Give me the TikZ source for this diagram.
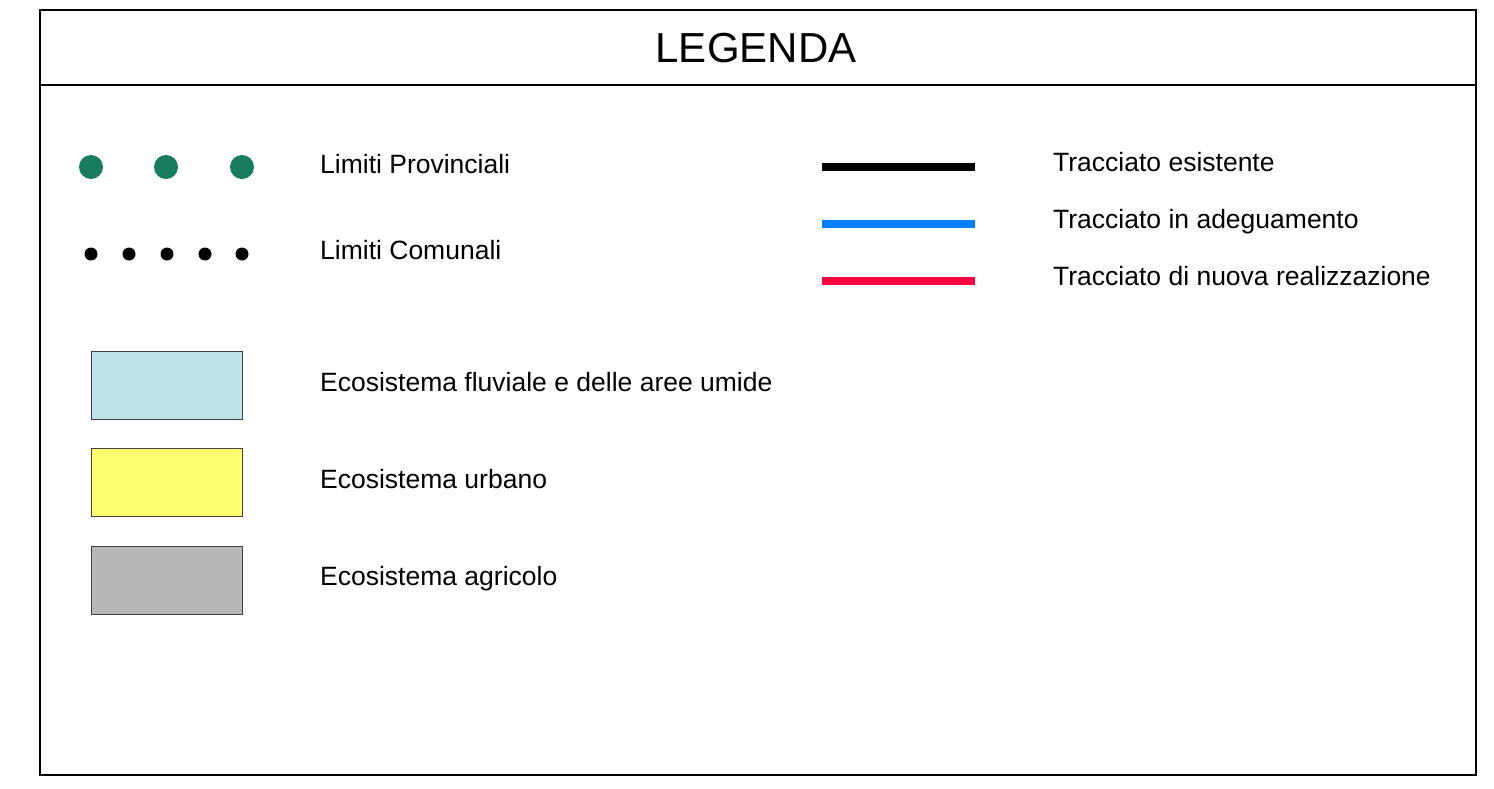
\documentclass[tikz,border=0pt]{standalone}
\usepackage{fontspec}
\setmainfont{Liberation Sans}
\usepackage{xcolor}
\usetikzlibrary{positioning}

\definecolor{provgreen}{RGB}{24,124,96}
\definecolor{fluvblue}{RGB}{194,226,233}
\definecolor{urbyellow}{RGB}{255,255,112}
\definecolor{agrgrey}{RGB}{184,184,184}
\definecolor{adegblue}{RGB}{0,128,255}
\definecolor{nuovared}{RGB}{255,0,64}

\tikzset{
  voce/.style={anchor=base west, inner sep=0pt, font=\fontsize{26.5}{31}\selectfont},
  campo/.style={draw=black!75, line width=0.9pt, minimum width=151pt, minimum height=68pt, inner sep=0pt},
  tratto/.style={line width=8pt}
}

\begin{document}
\begin{tikzpicture}[x=1pt,y=-1pt]
\useasboundingbox (0,0) rectangle (1494,788);
\draw[line width=2pt] (40,10) rectangle (1476,775);
\draw[line width=2pt] (40,85) -- (1476,85);
\node[anchor=base, inner sep=0pt, font=\fontsize{42}{50}\selectfont] (titolo) at (756,62) {LEGENDA};

% limiti
\foreach \x [count=\i] in {91,166,242}
  \fill[provgreen] (\x,167) circle (12pt) coordinate (p\i);
\foreach \x [count=\i] in {91,129,167,205,242}
  \fill[black] (\x,254) circle (6.5pt) coordinate (c\i);
\node[voce] (provinciali) at (320,173) {Limiti Provinciali};
\node[voce] (comunali) at (320,259) {Limiti Comunali};

% ecosistemi
\node[campo, fill=fluvblue] (fluviale) at (166.5,385) {};
\node[campo, fill=urbyellow] (urbano) at (166.5,482.5) {};
\node[campo, fill=agrgrey] (agricolo) at (166.5,580) {};
\node[voce] (tfluviale) at (320,391) {Ecosistema fluviale e delle aree umide};
\node[voce] (turbano) at (320,488) {Ecosistema urbano};
\node[voce] (tagricolo) at (320,585) {Ecosistema agricolo};

% tracciati
\coordinate (e1) at (822,167);  \coordinate (e2) at (975,167);
\coordinate (a1) at (822,223.5);  \coordinate (a2) at (975,223.5);
\coordinate (n1) at (822,280.5);  \coordinate (n2) at (975,280.5);
\draw[tratto, black] (e1) -- (e2);
\draw[tratto, adegblue] (a1) -- (a2);
\draw[tratto, nuovared] (n1) -- (n2);
\node[voce] (esistente) at (1053,171) {Tracciato esistente};
\node[voce] (adeguamento) at (1053,228) {Tracciato in adeguamento};
\node[voce] (nuovo) at (1053,285) {Tracciato di nuova realizzazione};
\end{tikzpicture}
\end{document}
